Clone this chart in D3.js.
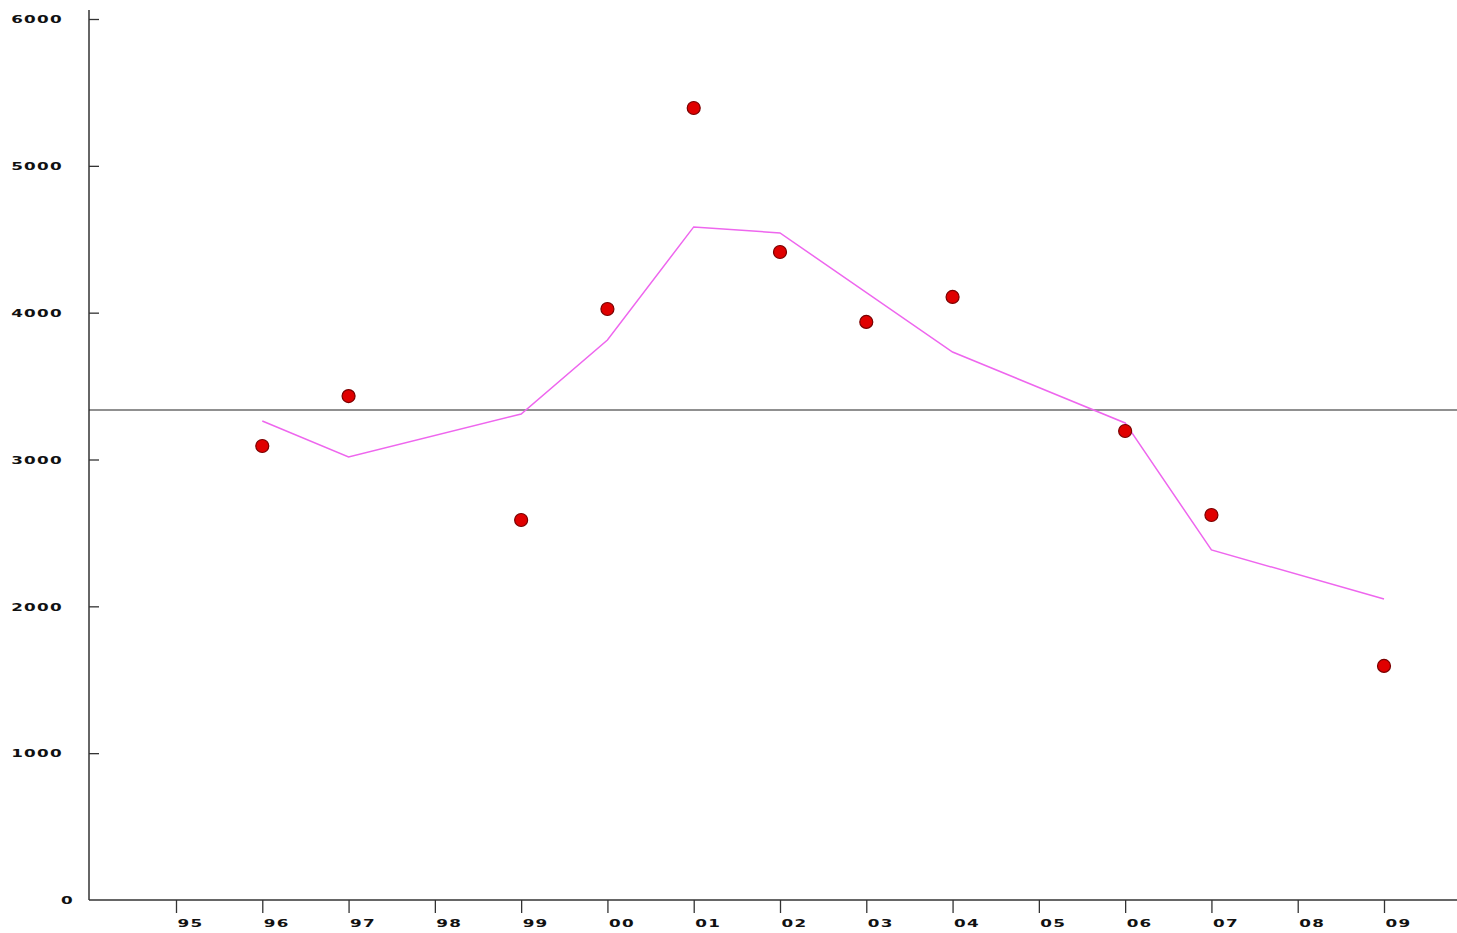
<!DOCTYPE html>
<html>
<head>
<meta charset="utf-8">
<script src="https://cdn.jsdelivr.net/npm/d3@7"></script>
<style>
  body { margin: 0; background: #fff; }
  svg { display: block; }
</style>
</head>
<body>
<svg id="chart"></svg>
<script>
// year labels along the bottom
var years = ["95","96","97","98","99","00","01","02","03","04","05","06","07","08","09"]
var yTicks = [0, 1000, 2000, 3000, 4000, 5000, 6000]

// dots (observed values)
var dotYears = ["96","97","99","00","01","02","03","04","06","07","09"]
var dotValues = [3092, 3432, 2588, 4025, 5394, 4413, 3937, 4107, 3194, 2622, 1594]

// pink trend line
var lineYears = ["96","97","99","00","01","02","04","06","07","09"]
var lineValues = [3262, 3017, 3310, 3814, 4584, 4543, 3732, 3249, 2384, 2050]

// horizontal reference level
var meanValue = 3337

var dimensions = {
  width: 1457,
  height: 933,
  margin: { top: 19, bottom: 33, left: 89, right: 0 }
}

var svg = d3.select("#chart")
  .attr("width", dimensions.width)
  .attr("height", dimensions.height)

var x = d3.scalePoint()
  .domain(years)
  .range([176, 1384])

var y = d3.scaleLinear()
  .domain([0, 6000])
  .range([dimensions.height - dimensions.margin.bottom, dimensions.margin.top])

var axisColor = "#333"
var labelFont = "'DejaVu Sans', sans-serif"

// the original labels are a squat, wide bold face -> stretch horizontally
function styleLabels(sel) {
  sel.style("font-family", labelFont)
    .style("font-size", "10.5px")
    .style("font-weight", "bold")
    .style("letter-spacing", "0.8px")
    .attr("fill", "#111")
}

// x axis
var xAxis = svg.append("g")
  .attr("transform", "translate(0," + y(0) + ")")
  .call(d3.axisBottom(x).tickSize(13).tickSizeOuter(0))

xAxis.select(".domain").remove()
xAxis.append("line")
  .attr("x1", dimensions.margin.left)
  .attr("x2", dimensions.width)
  .attr("stroke", axisColor)
  .attr("stroke-width", 1.5)
xAxis.selectAll(".tick line").attr("stroke", axisColor).attr("stroke-width", 1.3)
xAxis.selectAll(".tick text")
  .attr("text-anchor", "start")
  .attr("x", 0)
  .attr("y", 20)
  .attr("dy", "0.71em")
  .attr("transform", "translate(1,0) scale(1.6,1)")
  .call(styleLabels)

// y axis
var yAxis = svg.append("g")
  .attr("transform", "translate(" + dimensions.margin.left + ",0)")
  .call(d3.axisRight(y).tickValues(yTicks).tickFormat(d3.format("d")).tickSize(10).tickSizeOuter(0))

yAxis.select(".domain").remove()
yAxis.append("line")
  .attr("y1", 10)
  .attr("y2", y(0))
  .attr("stroke", axisColor)
  .attr("stroke-width", 1.5)
yAxis.selectAll(".tick line").attr("stroke", axisColor).attr("stroke-width", 1.3)
  .attr("x2", function(d) { return d === 0 ? 0 : 10 })
yAxis.selectAll(".tick text")
  .attr("text-anchor", "end")
  .attr("x", 0)
  .attr("dy", "0.35em")
  .attr("transform", function(d) { return "translate(" + (d === 0 ? -15 : -26) + ",0) scale(1.6,1)" })
  .call(styleLabels)

// reference line
svg.append("line")
  .attr("x1", dimensions.margin.left)
  .attr("x2", dimensions.width)
  .attr("y1", y(meanValue))
  .attr("y2", y(meanValue))
  .attr("stroke", "#222")
  .attr("stroke-width", 1.2)

// trend line
var lineData = lineYears.map(function(yr, i) { return { year: yr, value: lineValues[i] } })
svg.append("path")
  .datum(lineData)
  .attr("fill", "none")
  .attr("stroke", "#ee66ee")
  .attr("stroke-width", 1.5)
  .attr("d", d3.line()
    .x(function(d) { return x(d.year) })
    .y(function(d) { return y(d.value) }))

// dots
var dotData = dotYears.map(function(yr, i) { return { year: yr, value: dotValues[i] } })
svg.append("g")
  .selectAll("circle")
  .data(dotData)
  .enter().append("circle")
    .attr("cx", function(d) { return x(d.year) })
    .attr("cy", function(d) { return y(d.value) })
    .attr("r", 6.5)
    .attr("fill", "#e00000")
    .attr("stroke", "#7a0000")
    .attr("stroke-width", 1.2)
</script>
</body>
</html>
